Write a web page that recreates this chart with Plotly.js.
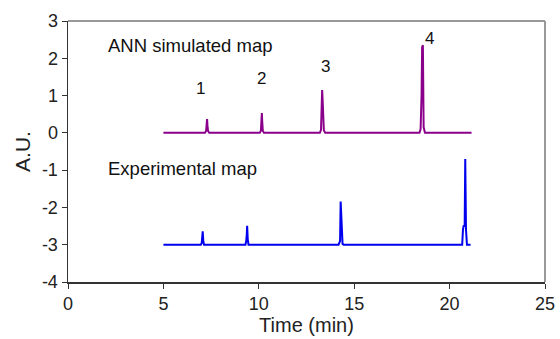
<!DOCTYPE html>
<html>
<head>
<meta charset="utf-8">
<script src="https://cdn.plot.ly/plotly-3.0.1.min.js"></script>
<style>html,body{margin:0;padding:0;background:#fff;}#chart{width:560px;height:339px;}</style>
</head>
<body>
<div id="chart"></div>
<script>
// ANN simulated map (purple), baseline 0
const annTime = [5.0, 7.18, 7.24, 7.27, 7.29, 7.31, 7.34, 7.40, 10.05, 10.11, 10.14, 10.16, 10.18, 10.21, 10.27,
  13.20, 13.26, 13.30, 13.32, 13.35, 13.38, 13.41, 13.48, 18.42, 18.48, 18.53, 18.56, 18.60, 18.64, 18.71, 21.15];
const annValue = [0, 0, 0.06, 0.25, 0.37, 0.2, 0.05, 0, 0, 0.06, 0.35, 0.53, 0.3, 0.06, 0,
  0, 0.08, 0.6, 1.15, 0.82, 0.4, 0.07, 0, 0, 0.1, 1.0, 2.3, 2.35, 0.15, 0, 0];

// Experimental map (blue), baseline -3
const expTime = [5.0, 6.96, 7.01, 7.04, 7.06, 7.09, 7.13, 9.30, 9.34, 9.37, 9.39, 9.42, 9.46,
  14.18, 14.22, 14.26, 14.29, 14.32, 14.35, 14.39, 14.45, 20.66, 20.70, 20.74, 20.79, 20.82, 20.86, 20.91, 20.96, 21.10];
const expValue = [-3, -3, -2.95, -2.75, -2.64, -2.9, -3, -3, -2.9, -2.72, -2.49, -2.85, -3,
  -3, -2.92, -2.9, -1.84, -2.24, -2.7, -2.98, -3, -3, -2.6, -2.48, -2.52, -0.7, -2.6, -3, -3, -3];

const peakLabels = ["1", "2", "3", "4"];
const peakLabelX = [6.93, 10.14, 13.5, 18.95];
const peakLabelY = [1.2, 1.45, 1.77, 2.52];

const seriesNames = ["ANN simulated map", "Experimental map"];
const seriesLabelX = [2.0, 2.0];
const seriesLabelY = [2.33, -0.95];

const xTicks = [0, 5, 10, 15, 20, 25];
const yTicks = [-4, -3, -2, -1, 0, 1, 2, 3];

const font = "Liberation Sans, Arial, Helvetica, sans-serif";

const traces = [
  {x: annTime, y: annValue, type: "scatter", mode: "lines", line: {color: "#8B008B", width: 2}, name: seriesNames[0], hoverinfo: "skip"},
  {x: expTime, y: expValue, type: "scatter", mode: "lines", line: {color: "#0000EE", width: 2}, name: seriesNames[1], hoverinfo: "skip"}
];

const annotations = [];
for (let i = 0; i < peakLabels.length; i++) {
  annotations.push({x: peakLabelX[i], y: peakLabelY[i], text: peakLabels[i], showarrow: false,
    xanchor: "center", yanchor: "middle", font: {family: font, size: 17, color: "#111"}});
}
for (let i = 0; i < seriesNames.length; i++) {
  annotations.push({x: seriesLabelX[i], y: seriesLabelY[i], text: seriesNames[i], showarrow: false,
    xanchor: "left", yanchor: "middle", font: {family: font, size: 18.5, color: "#111"}});
}

const layout = {
  width: 560, height: 339,
  margin: {l: 68, r: 15, t: 21, b: 57},
  paper_bgcolor: "#fff", plot_bgcolor: "#fff",
  showlegend: false,
  font: {family: font, color: "#222"},
  xaxis: {range: [0, 25], tickvals: xTicks, ticktext: xTicks.map(String), showgrid: false, zeroline: false,
    showline: true, linecolor: "#333", linewidth: 1.5, ticks: "outside", ticklen: 5, tickcolor: "#333",
    tickfont: {family: font, size: 18, color: "#222"},
    title: {text: "Time (min)", font: {family: font, size: 20, color: "#222"}, standoff: 3}},
  yaxis: {range: [-4, 3], tickvals: yTicks, ticktext: yTicks.map(String), showgrid: false, zeroline: false,
    showline: true, linecolor: "#333", linewidth: 1.5, ticks: "outside", ticklen: 5, tickcolor: "#333",
    tickfont: {family: font, size: 18, color: "#222"},
    title: {text: "A.U.", font: {family: font, size: 21, color: "#222"}, standoff: 5}},
  shapes: [
    {type: "line", xref: "paper", yref: "paper", x0: 0, x1: 1, y0: 1, y1: 1, line: {color: "#999", width: 2}},
    {type: "line", xref: "paper", yref: "paper", x0: 1, x1: 1, y0: 0, y1: 1, line: {color: "#999", width: 2}}
  ],
  annotations: annotations
};

Plotly.newPlot("chart", traces, layout, {displayModeBar: false, staticPlot: true});
</script>
</body>
</html>
